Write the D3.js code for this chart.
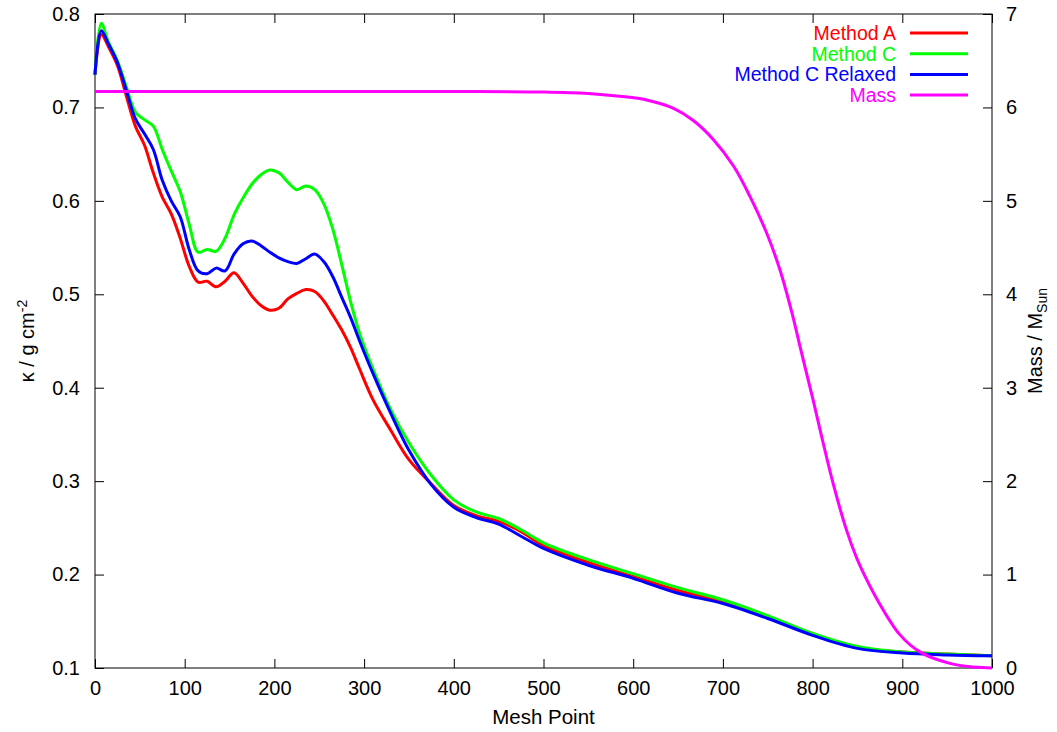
<!DOCTYPE html>
<meta charset="utf-8" />
<script src="https://d3js.org/d3.v7.min.js"></script>
<style>
  body { margin: 0; background: white; }
  text { font-family: "Liberation Sans", Arial, Helvetica, sans-serif; }
  .tick text { font-size: 20px; fill: black; }
</style>
<body>
<svg id="chart" width="1057" height="732"></svg>
<script>
  // mesh points where the opacity curves were read
  const mesh = [0, 7, 15, 25, 35, 45, 55, 65, 75, 85, 95, 105, 115, 125, 135, 145, 155, 165, 175, 185,
    195, 205, 215, 225, 235, 245, 255, 265, 275, 285, 295, 310, 330, 350, 375, 400, 425, 450, 475, 500,
    550, 600, 650, 700, 750, 800, 850, 900, 950, 1000];

  const methodA = [0.735, 0.778, 0.765, 0.745, 0.712, 0.680, 0.660, 0.630, 0.604, 0.586, 0.560, 0.530, 0.513, 0.514, 0.508, 0.514, 0.523, 0.512, 0.498, 0.488,
    0.483, 0.485, 0.495, 0.501, 0.505, 0.503, 0.493, 0.478, 0.462, 0.443, 0.420, 0.387, 0.354, 0.323, 0.297, 0.274, 0.263, 0.257, 0.246, 0.231,
    0.213, 0.198, 0.183, 0.171, 0.154, 0.136, 0.122, 0.117, 0.115, 0.113];

  const methodC = [0.735, 0.790, 0.770, 0.750, 0.722, 0.695, 0.687, 0.680, 0.655, 0.632, 0.610, 0.575, 0.545, 0.548, 0.546, 0.560, 0.585, 0.603, 0.618, 0.628,
    0.633, 0.630, 0.620, 0.612, 0.616, 0.612, 0.597, 0.570, 0.532, 0.492, 0.458, 0.420, 0.376, 0.341, 0.306, 0.280, 0.267, 0.260, 0.248, 0.234,
    0.216, 0.201, 0.186, 0.173, 0.156, 0.137, 0.123, 0.117, 0.115, 0.113];

  const methodCRelaxed = [0.735, 0.782, 0.768, 0.748, 0.718, 0.688, 0.672, 0.655, 0.622, 0.600, 0.583, 0.548, 0.525, 0.522, 0.528, 0.525, 0.543, 0.554, 0.557, 0.552,
    0.545, 0.539, 0.535, 0.533, 0.538, 0.543, 0.535, 0.519, 0.497, 0.475, 0.450, 0.415, 0.372, 0.333, 0.296, 0.272, 0.261, 0.254, 0.241, 0.228,
    0.210, 0.196, 0.180, 0.169, 0.153, 0.135, 0.121, 0.116, 0.114, 0.113];

  // enclosed mass (right axis)
  const massMesh = [0, 100, 200, 300, 400, 500, 550, 585, 615, 645, 667, 689, 712, 730, 749, 764, 777, 786, 801, 812,
    823, 838, 849, 858, 871, 897, 920, 953, 980, 1000];
  const massVals = [6.17, 6.17, 6.17, 6.17, 6.17, 6.165, 6.15, 6.12, 6.08, 5.99, 5.86, 5.66, 5.37, 5.05, 4.65, 4.25, 3.80, 3.44, 2.85, 2.40,
    1.97, 1.47, 1.18, 0.99, 0.75, 0.36, 0.17, 0.05, 0.01, 0.0];

  const xTicks = [0, 100, 200, 300, 400, 500, 600, 700, 800, 900, 1000];
  const yTicks = [0.1, 0.2, 0.3, 0.4, 0.5, 0.6, 0.7, 0.8];
  const y2Ticks = [0, 1, 2, 3, 4, 5, 6, 7];

  const svg = d3.select("#chart");
  const plotL = 95, plotR = 992, plotT = 14, plotB = 668;

  const x = d3.scaleLinear().domain([0, 1000]).range([plotL, plotR]);
  const y = d3.scaleLinear().domain([0.1, 0.8]).range([plotB, plotT]);
  const y2 = d3.scaleLinear().domain([0, 7]).range([plotB, plotT]);

  // axes with inward ticks (gnuplot style)
  svg.append("g").attr("transform", `translate(0,${plotB})`)
    .call(d3.axisBottom(x).tickValues(xTicks).tickSize(-9).tickPadding(13).tickFormat(d3.format("d")));
  svg.append("g").attr("transform", `translate(0,${plotT})`)
    .call(d3.axisTop(x).tickValues(xTicks).tickSize(-9).tickFormat(""));
  svg.append("g").attr("transform", `translate(${plotL},0)`)
    .call(d3.axisLeft(y).tickValues(yTicks).tickSize(-9).tickPadding(15).tickFormat(d3.format(".1f")));
  svg.append("g").attr("transform", `translate(${plotR},0)`)
    .call(d3.axisRight(y2).tickValues(y2Ticks).tickSize(-9).tickPadding(14).tickFormat(d3.format("d")));

  svg.selectAll(".domain").remove();
  svg.selectAll(".tick line").attr("stroke", "black").attr("stroke-width", 1);

  svg.append("rect")
    .attr("x", plotL).attr("y", plotT)
    .attr("width", plotR - plotL).attr("height", plotB - plotT)
    .attr("fill", "none").attr("stroke", "black").attr("stroke-width", 1);

  // curves
  const series = [
    { name: "Method A", color: "#ff0000", vals: methodA },
    { name: "Method C", color: "#00ff00", vals: methodC },
    { name: "Method C Relaxed", color: "#0000ff", vals: methodCRelaxed }
  ];

  const kLine = d3.line()
    .x(d => x(d[0]))
    .y(d => y(d[1]))
    .curve(d3.curveCatmullRom.alpha(0.5));

  series.forEach(s => {
    svg.append("path")
      .datum(mesh.map((m, i) => [m, s.vals[i]]))
      .attr("d", kLine)
      .attr("fill", "none")
      .attr("stroke", s.color)
      .attr("stroke-width", 3)
      .attr("stroke-linejoin", "round");
  });

  const massLine = d3.line()
    .x(d => x(d[0]))
    .y(d => y2(d[1]))
    .curve(d3.curveCatmullRom.alpha(0.5));

  svg.append("path")
    .datum(massMesh.map((m, i) => [m, massVals[i]]))
    .attr("d", massLine)
    .attr("fill", "none")
    .attr("stroke", "#ff00ff")
    .attr("stroke-width", 3);

  // legend
  const legendItems = series.concat([{ name: "Mass", color: "#ff00ff" }]);
  const legend = svg.append("g");
  legendItems.forEach((s, i) => {
    const ly = 33 + i * 20.7;
    legend.append("text")
      .attr("x", 896).attr("y", ly + 7)
      .attr("text-anchor", "end")
      .attr("font-size", 19.5)
      .attr("fill", s.color)
      .text(s.name);
    legend.append("line")
      .attr("x1", 910).attr("x2", 968)
      .attr("y1", ly).attr("y2", ly)
      .attr("stroke", s.color)
      .attr("stroke-width", 3);
  });

  // axis titles
  svg.append("text")
    .attr("x", (plotL + plotR) / 2).attr("y", 724)
    .attr("text-anchor", "middle")
    .attr("font-size", 20.5)
    .text("Mesh Point");

  const yTitle = svg.append("text")
    .attr("transform", `translate(34,${(plotT + plotB) / 2}) rotate(-90)`)
    .attr("text-anchor", "middle")
    .attr("font-size", 20);
  yTitle.append("tspan").text("κ / g cm");
  yTitle.append("tspan").attr("dy", -7).attr("font-size", 14).text("-2");

  const y2Title = svg.append("text")
    .attr("transform", `translate(1042,${(plotT + plotB) / 2}) rotate(-90)`)
    .attr("text-anchor", "middle")
    .attr("font-size", 20);
  y2Title.append("tspan").text("Mass / M");
  y2Title.append("tspan").attr("dy", 5).attr("font-size", 14).text("Sun");
</script>
</body>
